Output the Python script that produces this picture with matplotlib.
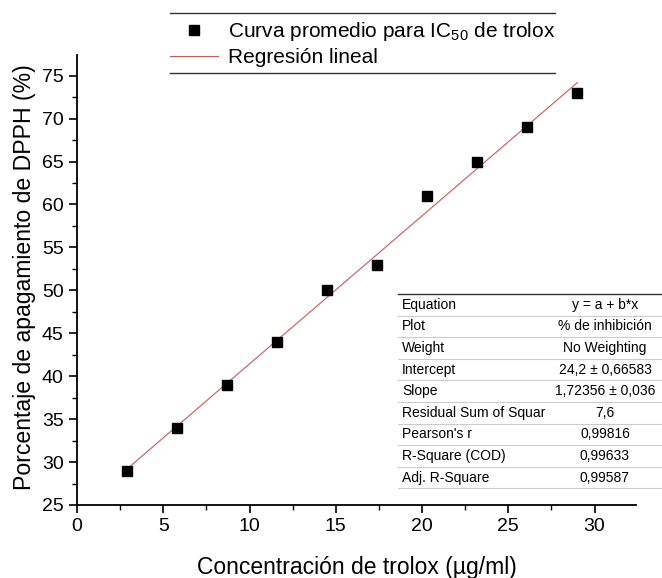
import matplotlib.pyplot as plt
import numpy as np
from matplotlib.lines import Line2D

plt.rcParams['font.family'] = ['Liberation Sans', 'DejaVu Sans']
plt.rcParams['mathtext.fontset'] = 'custom'
plt.rcParams['mathtext.rm'] = 'Liberation Sans'
plt.rcParams['mathtext.it'] = 'Liberation Sans'

# Average inhibition curve for trolox
conc = [2.9, 5.8, 8.7, 11.6, 14.5, 17.4, 20.3, 23.2, 26.1, 29.0]
inhib = [29, 34, 39, 44, 50, 53, 61, 65, 69, 73]

# Linear fit parameters
intercept = 24.2
slope = 1.72356

fit_rows = ["Equation", "Plot", "Weight", "Intercept", "Slope",
            "Residual Sum of Squar", "Pearson's r", "R-Square (COD)",
            "Adj. R-Square"]
fit_vals = ["y = a + b*x", "% de inhibición", "No Weighting",
            "24,2 ± 0,66583", "1,72356 ± 0,036", "7,6", "0,99816",
            "0,99633", "0,99587"]

fig = plt.figure(figsize=(6.62, 5.78), dpi=100)
ax = fig.add_axes([0.1163, 0.1263, 0.8444, 0.7785])

xfit = np.array([conc[0], conc[-1]])
ax.plot(xfit, intercept + slope * xfit, color='#c85a5a', lw=0.8,
        label='Regresión lineal', zorder=2)
ax.plot(conc, inhib, 's', color='black', markersize=7.5,
        label='Curva promedio para IC$_{50}$ de trolox', zorder=3)

ax.set_xlim(0, 32.4)
ax.set_ylim(25, 77.4)
ax.set_xticks(np.arange(0, 31, 5))
ax.set_xticks(np.arange(2.5, 32.4, 5), minor=True)
ax.set_yticks(np.arange(25, 76, 5))
ax.set_yticks(np.arange(27.5, 77.4, 5), minor=True)
for s in ['top', 'right']:
    ax.spines[s].set_visible(False)
for s in ['left', 'bottom']:
    ax.spines[s].set_linewidth(1.3)
ax.tick_params(which='major', direction='out', length=6, width=1.2,
               labelsize=14)
ax.tick_params(which='minor', direction='out', length=3.5, width=1.0)

ax.set_xlabel('Concentración de trolox (µg/ml)', fontsize=16.5)
ax.set_ylabel('Porcentaje de apagamiento de DPPH (%)', fontsize=16.6)
ax.xaxis.set_label_coords(0.5, -0.113)
ax.yaxis.set_label_coords(-0.074, 0.507)

# Legend above the plot, framed by two rules
handles, labels = ax.get_legend_handles_labels()
fig.legend(handles[::-1], labels[::-1], loc='upper left',
           bbox_to_anchor=(170 / 662, 1 - 20 / 578), frameon=False,
           fontsize=15, handlelength=2.3, handletextpad=0.5,
           borderpad=0, borderaxespad=0, labelspacing=0.25)
for yp in (13, 73):
    fig.add_artist(Line2D([170 / 662, 555 / 662], [1 - yp / 578] * 2,
                          color='#333333', lw=1.0))

# Fit summary table
W, H = 662, 578
tx0, tx1 = 398, 662
ty0, rh = 294, 21.6
for i, (name, val) in enumerate(zip(fit_rows, fit_vals)):
    yc = ty0 + rh * (i + 0.5)
    fig.text(402 / W, 1 - yc / H, name, fontsize=10, va='center',
             ha='left')
    fig.text(605 / W, 1 - yc / H, val, fontsize=10, va='center',
             ha='center')
for i in range(len(fit_rows) + 1):
    yl = ty0 + rh * i
    col = '#333333' if i == 0 else '#cccccc'
    fig.add_artist(Line2D([tx0 / W, tx1 / W], [1 - yl / H] * 2,
                          color=col, lw=1.0 if i == 0 else 0.8))

fig.savefig('out.png', dpi=100)
